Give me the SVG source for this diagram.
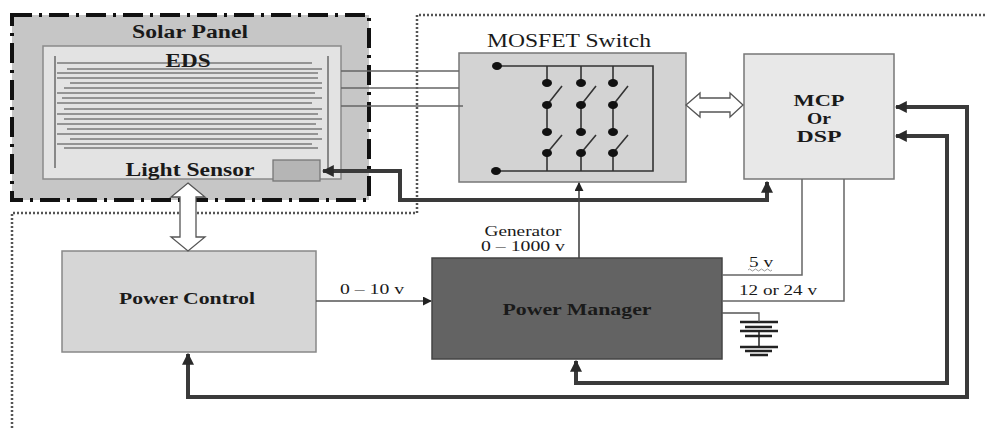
<svg xmlns="http://www.w3.org/2000/svg" width="987" height="430" viewBox="0 0 987 430">
<style>
text{font-family:"Liberation Serif","Times New Roman",serif;fill:#1a1a1a}
.b{font-weight:bold}
.thin{fill:none;stroke:#666;stroke-width:1.5}
.thick{fill:none;stroke:#3a3a3a;stroke-width:4}
.wire{fill:none;stroke:#333;stroke-width:1.6}
.eds{stroke:#7a7a7a;stroke-width:1.3}
.dot{fill:#111}
.hollow{fill:#fff;stroke:#555;stroke-width:1.3}
.gnd{stroke:#222;stroke-width:2.5}
</style>
<defs>
<marker id="ah" viewBox="0 0 10 10" refX="9" refY="5" markerWidth="12" markerHeight="12" markerUnits="userSpaceOnUse" orient="auto-start-reverse"><path d="M0,0 L10,5 L0,10 z" fill="#2a2a2a"/></marker>
<marker id="as" viewBox="0 0 10 10" refX="9" refY="5" markerWidth="9" markerHeight="9" markerUnits="userSpaceOnUse" orient="auto-start-reverse"><path d="M0,0 L10,5 L0,10 z" fill="#222"/></marker>
</defs>
<rect width="987" height="430" fill="#fff"/>
<path id="boundary" d="M12 428 V213 H417 V15 H987" fill="none" stroke="#555" stroke-width="2.5" stroke-dasharray="2 2"/>
<g id="solar-panel">
<rect x="12" y="15" width="357" height="185" fill="#c6c6c6" stroke="#111" stroke-width="4" stroke-dasharray="20 7 3 7"/>
<text class="b" x="190" y="38" font-size="18" text-anchor="middle" textLength="116" lengthAdjust="spacingAndGlyphs">Solar Panel</text>
</g>
<g id="eds">
<rect x="43" y="46" width="298" height="133" fill="#e3e3e3" stroke="#8a8a8a" stroke-width="1.5"/>
<line x1="55" y1="56" x2="55" y2="168" stroke="#888" stroke-width="2"/>
<line x1="328" y1="56" x2="328" y2="172" stroke="#888" stroke-width="2"/>
<g class="eds">
<line x1="57" y1="63" x2="312" y2="63"/><line x1="67" y1="69" x2="322" y2="69"/>
<line x1="57" y1="73" x2="318" y2="73"/><line x1="57" y1="78" x2="318" y2="78"/>
<line x1="70" y1="83" x2="322" y2="83"/><line x1="64" y1="88" x2="322" y2="88"/>
<line x1="57" y1="93" x2="315" y2="93"/><line x1="62" y1="98" x2="322" y2="98"/>
<line x1="57" y1="103" x2="312" y2="103"/><line x1="64" y1="109" x2="322" y2="109"/>
<line x1="57" y1="114" x2="318" y2="114"/><line x1="64" y1="119" x2="322" y2="119"/>
<line x1="57" y1="124" x2="316" y2="124"/><line x1="67" y1="129" x2="322" y2="129"/>
<line x1="57" y1="134" x2="318" y2="134"/><line x1="70" y1="139" x2="322" y2="139"/>
<line x1="57" y1="144" x2="312" y2="144"/><line x1="64" y1="148" x2="318" y2="148"/>
</g>
<text class="b" x="188" y="67" font-size="18" text-anchor="middle" textLength="45" lengthAdjust="spacingAndGlyphs">EDS</text>
<text class="b" x="190" y="176" font-size="18" text-anchor="middle" textLength="129" lengthAdjust="spacingAndGlyphs">Light Sensor</text>
</g>
<g id="light-sensor">
<rect x="273" y="160" width="47" height="21" fill="#b5b5b5" stroke="#777" stroke-width="1.3"/>
</g>
<g id="mosfet-switch">
<text x="569" y="47" font-size="18" text-anchor="middle" textLength="164" lengthAdjust="spacingAndGlyphs">MOSFET Switch</text>
<rect x="459" y="53" width="227" height="129" fill="#d3d3d3" stroke="#777" stroke-width="1.5"/>
<path class="wire" d="M497 66 H653 V171 H496"/>
<g class="wire">
<path d="M547 66 V83 M547 105 V132 M547 153 V171 M547 105 L562 86 M547 153 L562 135"/>
<path d="M581 66 V83 M581 105 V132 M581 153 V171 M581 105 L596 86 M581 153 L596 135"/>
<path d="M613 66 V83 M613 105 V132 M613 153 V171 M613 105 L628 86 M613 153 L628 135"/>
</g>
<ellipse class="dot" cx="497" cy="66" rx="5" ry="4"/><ellipse class="dot" cx="496" cy="171" rx="5" ry="4"/>
<ellipse class="dot" cx="547" cy="83" rx="5" ry="4"/><ellipse class="dot" cx="547" cy="105" rx="5" ry="4"/>
<ellipse class="dot" cx="547" cy="132" rx="5" ry="4"/><ellipse class="dot" cx="547" cy="153" rx="5" ry="4"/>
<ellipse class="dot" cx="581" cy="83" rx="5" ry="4"/><ellipse class="dot" cx="581" cy="105" rx="5" ry="4"/>
<ellipse class="dot" cx="581" cy="132" rx="5" ry="4"/><ellipse class="dot" cx="581" cy="153" rx="5" ry="4"/>
<ellipse class="dot" cx="613" cy="83" rx="5" ry="4"/><ellipse class="dot" cx="613" cy="105" rx="5" ry="4"/>
<ellipse class="dot" cx="613" cy="132" rx="5" ry="4"/><ellipse class="dot" cx="613" cy="153" rx="5" ry="4"/>
</g>
<g id="mcp-dsp">
<rect x="744" y="54" width="150" height="125" fill="#e8e8e8" stroke="#777" stroke-width="1.5"/>
<text class="b" x="819" y="106" font-size="17" text-anchor="middle" textLength="51" lengthAdjust="spacingAndGlyphs">MCP</text>
<text class="b" x="819" y="124" font-size="17" text-anchor="middle" textLength="24" lengthAdjust="spacingAndGlyphs">Or</text>
<text class="b" x="819" y="142" font-size="17" text-anchor="middle" textLength="45" lengthAdjust="spacingAndGlyphs">DSP</text>
</g>
<g id="power-control">
<rect x="62" y="251" width="254" height="101" fill="#d6d6d6" stroke="#888" stroke-width="1.5"/>
<text class="b" x="187" y="304" font-size="17" text-anchor="middle" textLength="136" lengthAdjust="spacingAndGlyphs">Power Control</text>
</g>
<g id="power-manager">
<rect x="432" y="258" width="290" height="101" fill="#636363" stroke="#444" stroke-width="1.5"/>
<text class="b" x="577" y="315" font-size="17" text-anchor="middle" textLength="149" lengthAdjust="spacingAndGlyphs">Power Manager</text>
</g>
<g id="ground">
<path class="gnd" d="M740 322 H778 M745 327 H772 M740 331 H778 M745 336 H772 M740 347 H778 M745 351 H772 M750 355 H768"/>
<path d="M759 331 V347" stroke="#222" stroke-width="1.5"/>
</g>
<g id="connectors">
<path class="thin" d="M341 71 H459 M341 88 H459 M341 106 H463"/>
<polygon class="hollow" points="686,105 700,93 700,98 730,98 730,93 743,105 730,117 730,112 700,112 700,117"/>
<polygon class="hollow" points="188,183 205,197 196,197 196,237 205,237 188,251 171,237 180,237 180,197 171,197"/>
<path class="thick" d="M323 171 H400 V200 H767 V182" marker-start="url(#ah)" marker-end="url(#ah)"/>
<path class="thick" d="M896 107 H967 V397 H188 V354" marker-start="url(#ah)" marker-end="url(#ah)"/>
<path class="thick" d="M896 136 H947 V383 H576 V361" marker-start="url(#ah)" marker-end="url(#ah)"/>
<path d="M316 301 H431" fill="none" stroke="#555" stroke-width="1.5" marker-end="url(#as)"/>
<path d="M579 258 V183" fill="none" stroke="#444" stroke-width="1.6" marker-end="url(#as)"/>
<path class="thin" d="M722 275 H802 V179"/>
<path class="thin" d="M722 301 H844 V179"/>
<path d="M722 313 H759 V322" fill="none" stroke="#555" stroke-width="1.3"/>
<path d="M748 270 q1.5 -2 3 0 t3 0 t3 0 t3 0 t3 0 t3 0 t3 0 t3 0" fill="none" stroke="#999" stroke-width="1"/>
</g>
<g id="labels">
<text x="523" y="236" font-size="14" text-anchor="middle" textLength="77" lengthAdjust="spacingAndGlyphs">Generator</text>
<text x="523" y="251" font-size="14" text-anchor="middle" textLength="84" lengthAdjust="spacingAndGlyphs">0 – 1000 v</text>
<text x="372" y="294" font-size="14" text-anchor="middle" textLength="64" lengthAdjust="spacingAndGlyphs">0 – 10 v</text>
<text x="761" y="267" font-size="14" text-anchor="middle" textLength="24" lengthAdjust="spacingAndGlyphs">5 v</text>
<text x="778" y="295" font-size="14" text-anchor="middle" textLength="78" lengthAdjust="spacingAndGlyphs">12 or 24 v</text>
</g>
</svg>
